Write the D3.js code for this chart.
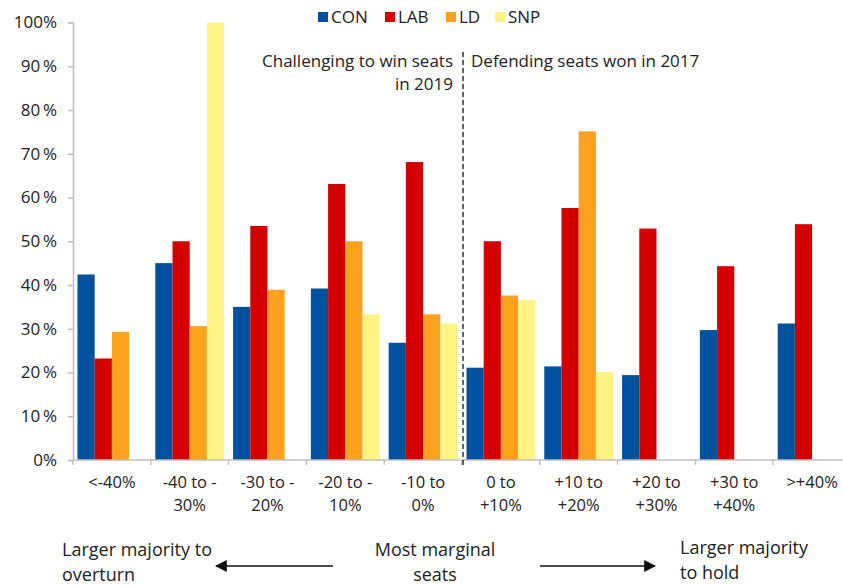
<!DOCTYPE html>
<html>
<head>
<meta charset="utf-8">
<script src="https://cdn.jsdelivr.net/npm/d3@7"></script>
<style>
  html, body { margin: 0; padding: 0; background: #fff; }
  svg text { font-family: "Open Sans", "Noto Sans", sans-serif; fill: #222; }
</style>
</head>
<body>
<svg id="chart" width="843" height="585"></svg>
<script>
const categories = ["<-40%", "-40 to -|30%", "-30 to -|20%", "-20 to -|10%", "-10 to|0%",
                    "0 to|+10%", "+10 to|+20%", "+20 to|+30%", "+30 to|+40%", ">+40%"];
const seriesNames = ["CON", "LAB", "LD", "SNP"];
const conValues = [42.4, 45.0, 35.0, 39.2, 26.8, 21.1, 21.4, 19.4, 29.7, 31.2];
const labValues = [23.2, 50.0, 53.5, 63.1, 68.1, 50.0, 57.6, 52.9, 44.3, 53.9];
const ldValues  = [29.3, 30.6, 38.9, 50.0, 33.3, 37.6, 75.1, null, null, null];
const snpValues = [null, 100.0, null, 33.3, 31.2, 36.6, 20.1, null, null, null];
const colors = ["#00529F", "#D40000", "#FBA11E", "#FEF383"];
const yTicks = [0, 10, 20, 30, 40, 50, 60, 70, 80, 90, 100];

const allValues = [conValues, labValues, ldValues, snpValues];
const svg = d3.select("#chart");

const x = d3.scaleBand().domain(d3.range(categories.length)).range([73, 851]).padding(0);
const xs = d3.scaleBand().domain(seriesNames).range([0, x.bandwidth()]).paddingInner(0).paddingOuter(0.26);
const y = d3.scaleLinear().domain([0, 100]).range([460, 22.5]);
const color = d3.scaleOrdinal().domain(seriesNames).range(colors);

// Bars
const rows = [];
categories.forEach((c, i) => {
  seriesNames.forEach((s, j) => {
    const v = allValues[j][i];
    if (v !== null) rows.push({ i, s, v });
  });
});
svg.append("g").selectAll("rect").data(rows).join("rect")
  .attr("x", d => x(d.i) + xs(d.s))
  .attr("y", d => y(d.v))
  .attr("width", xs.bandwidth())
  .attr("height", d => y(0) - y(d.v))
  .attr("fill", d => color(d.s));

// Y axis
const yAxis = svg.append("g").attr("transform", "translate(73,0)")
  .call(d3.axisLeft(y).tickValues(yTicks).tickSize(5).tickPadding(11).tickFormat(d => d === 0 ? "0%" : (d === 100 ? "100%" : d + "\u2009%")));
yAxis.select(".domain").attr("stroke", "#bfbfbf").attr("stroke-width", 1.5);
yAxis.selectAll(".tick line").attr("stroke", "#bfbfbf").attr("stroke-width", 1.5);
yAxis.selectAll(".tick text").style("font-size", "17px").attr("fill", "#222");

// X axis line and ticks
const xg = svg.append("g");
xg.append("line").attr("x1", 73).attr("x2", 843).attr("y1", y(0)).attr("y2", y(0))
  .attr("stroke", "#bfbfbf").attr("stroke-width", 1.5);
xg.selectAll("line.tk").data(d3.range(categories.length)).join("line").attr("class", "tk")
  .attr("x1", d => x(d)).attr("x2", d => x(d))
  .attr("y1", y(0)).attr("y2", y(0) + 5)
  .attr("stroke", "#bfbfbf").attr("stroke-width", 1.5);

// X labels
const xl = xg.selectAll("text.xl").data(categories).join("text").attr("class", "xl")
  .attr("text-anchor", "middle")
  .style("font-size", "16.5px");
xl.each(function(d, i) {
  const lines = d.split("|");
  const t = d3.select(this);
  lines.forEach((ln, k) => {
    t.append("tspan").attr("x", x(i) + x.bandwidth() / 2).attr("y", 488 + k * 22.6).text(ln);
  });
});

// Legend
const legendX = [318, 385, 446, 495];
const lg = svg.append("g");
seriesNames.forEach((s, j) => {
  lg.append("rect").attr("x", legendX[j]).attr("y", 12).attr("width", 10).attr("height", 10).attr("fill", colors[j]);
  lg.append("text").attr("x", legendX[j] + 13).attr("y", 23).style("font-size", "17px").text(s);
});

// Divider
const divX = x(5) + 1;
svg.append("line").attr("x1", divX).attr("x2", divX).attr("y1", 52).attr("y2", 468)
  .attr("stroke", "#111").attr("stroke-width", 1.3).attr("stroke-dasharray", "5,3");

svg.append("text").attr("x", 453).attr("y", 67).attr("text-anchor", "end").style("font-size", "17px").text("Challenging to win seats");
svg.append("text").attr("x", 453).attr("y", 90).attr("text-anchor", "end").style("font-size", "17px").text("in 2019");
svg.append("text").attr("x", 471).attr("y", 67).style("font-size", "17px").text("Defending seats won in 2017");

// Bottom annotations
const fs = "18px";
svg.append("text").attr("x", 62).attr("y", 556).style("font-size", fs).text("Larger majority to");
svg.append("text").attr("x", 62).attr("y", 581).style("font-size", fs).text("overturn");
svg.append("text").attr("x", 435).attr("y", 556).attr("text-anchor", "middle").style("font-size", fs).text("Most marginal");
svg.append("text").attr("x", 435).attr("y", 581).attr("text-anchor", "middle").style("font-size", fs).text("seats");
svg.append("text").attr("x", 680).attr("y", 554).style("font-size", fs).text("Larger majority");
svg.append("text").attr("x", 680).attr("y", 579).style("font-size", fs).text("to hold");

const defs = svg.append("defs");
defs.append("marker").attr("id", "ah").attr("viewBox", "0 0 10 10").attr("refX", 9).attr("refY", 5)
  .attr("markerWidth", 12).attr("markerHeight", 12).attr("orient", "auto-start-reverse").attr("markerUnits", "userSpaceOnUse")
  .append("path").attr("d", "M0,0 L10,5 L0,10 z").attr("fill", "#111");

svg.append("line").attr("x1", 333).attr("x2", 216).attr("y1", 566).attr("y2", 566)
  .attr("stroke", "#111").attr("stroke-width", 1.5).attr("marker-end", "url(#ah)");
svg.append("line").attr("x1", 540).attr("x2", 655).attr("y1", 566).attr("y2", 566)
  .attr("stroke", "#111").attr("stroke-width", 1.5).attr("marker-end", "url(#ah)");
</script>
</body>
</html>
